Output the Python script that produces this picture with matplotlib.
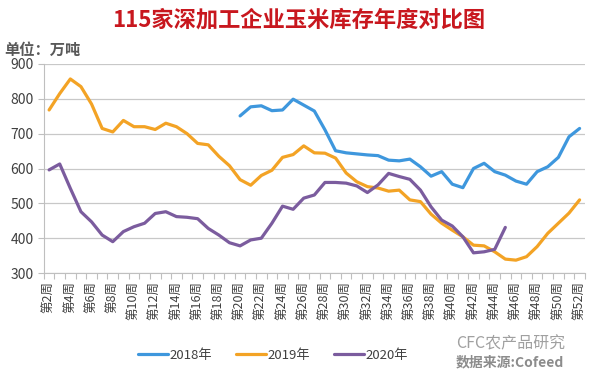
import numpy as np
import matplotlib.pyplot as plt

plt.rcParams['font.family'] = ['Noto Sans CJK SC', 'DejaVu Sans']

weeks = list(range(2, 53))

inv_2018 = [None] * 18 + [
    751, 777, 780, 766, 768, 799, 782, 765, 711, 651,
    645, 642, 639, 637, 624, 622, 627, 605, 578, 591,
    555, 545, 600, 615, 591, 581, 564, 555, 591, 605,
    632, 691, 715,
]
inv_2019 = [
    768, 815, 857, 835, 785, 715, 705, 738, 720, 720,
    712, 730, 720, 700, 672, 668, 635, 608, 568, 552,
    580, 595, 632, 640, 665, 645, 644, 630, 587, 562,
    548, 544, 535, 538, 510, 505, 469, 443, 423, 404,
    380, 378, 361, 340, 337, 347, 376, 414, 443, 472,
    510,
]
inv_2020 = [
    596, 613, 543, 476, 447, 409, 390, 419, 433, 443,
    471, 476, 462, 460, 456, 428, 409, 387, 378, 395,
    400, 443, 492, 483, 515, 524, 560, 560, 558, 550,
    531, 553, 586, 577, 569, 538, 490, 452, 435, 404,
    358, 361, 368, 431,
]

series = [
    ('2018年', inv_2018, '#3E97DD'),
    ('2019年', inv_2019, '#F3A325'),
    ('2020年', inv_2020, '#7B5C9E'),
]

fig = plt.figure(figsize=(5.92, 3.72), dpi=100)
ax = fig.add_axes([0.074, 0.266, 0.914, 0.562])

for label, values, color in series:
    y = np.array([np.nan if v is None else v for v in values], dtype=float)
    x = weeks[:len(y)]
    ax.plot(x, y, color=color, lw=2.3, label=label, solid_capstyle='round')

ax.set_xlim(1.5, 52.5)
ax.set_ylim(300, 900)
ax.set_yticks(range(300, 901, 100))
ax.yaxis.grid(True, color='#C8C8C8', lw=0.9)
ax.set_axisbelow(True)
for side in ['top', 'right']:
    ax.spines[side].set_visible(False)
for side in ['left', 'bottom']:
    ax.spines[side].set_color('#BFBFBF')

# tick marks between categories, labels on even weeks
ax.set_xticks(np.arange(1.5, 53, 1))
ax.set_xticklabels([])
ax.tick_params(axis='x', which='major', length=4, color='#BFBFBF')
ax.set_xticks([w for w in weeks if w % 2 == 0], minor=True)
ax.set_xticklabels(['第%d周' % w for w in weeks if w % 2 == 0],
                   minor=True, rotation=90, fontsize=9, color='#404040')
ax.tick_params(axis='x', which='minor', length=0, pad=6)
ax.tick_params(axis='y', length=4, color='#BFBFBF', labelsize=10,
               labelcolor='#404040')

fig.text(0.505, 0.945, '115家深加工企业玉米库存年度对比图', ha='center', va='center',
         fontsize=16, fontweight='bold', color='#C8171E')
fig.text(0.008, 0.865, '单位：万吨', ha='left', va='center', fontsize=11,
         fontweight='bold', color='#595959')

fig.legend(loc='center', bbox_to_anchor=(0.461, 0.045), ncol=3, frameon=False,
           fontsize=9.5, handlelength=2.3, handletextpad=0.1, columnspacing=1.8,
           labelcolor='#404040')

fig.text(0.862, 0.075, 'CFC农产品研究', ha='center', va='center', fontsize=11.5,
         color='#A0A0A0')
fig.text(0.862, 0.027, '数据来源:Cofeed', ha='center', va='center', fontsize=10,
         fontweight='bold', color='#8C8C8C')

fig.savefig('out.png', dpi=100)
